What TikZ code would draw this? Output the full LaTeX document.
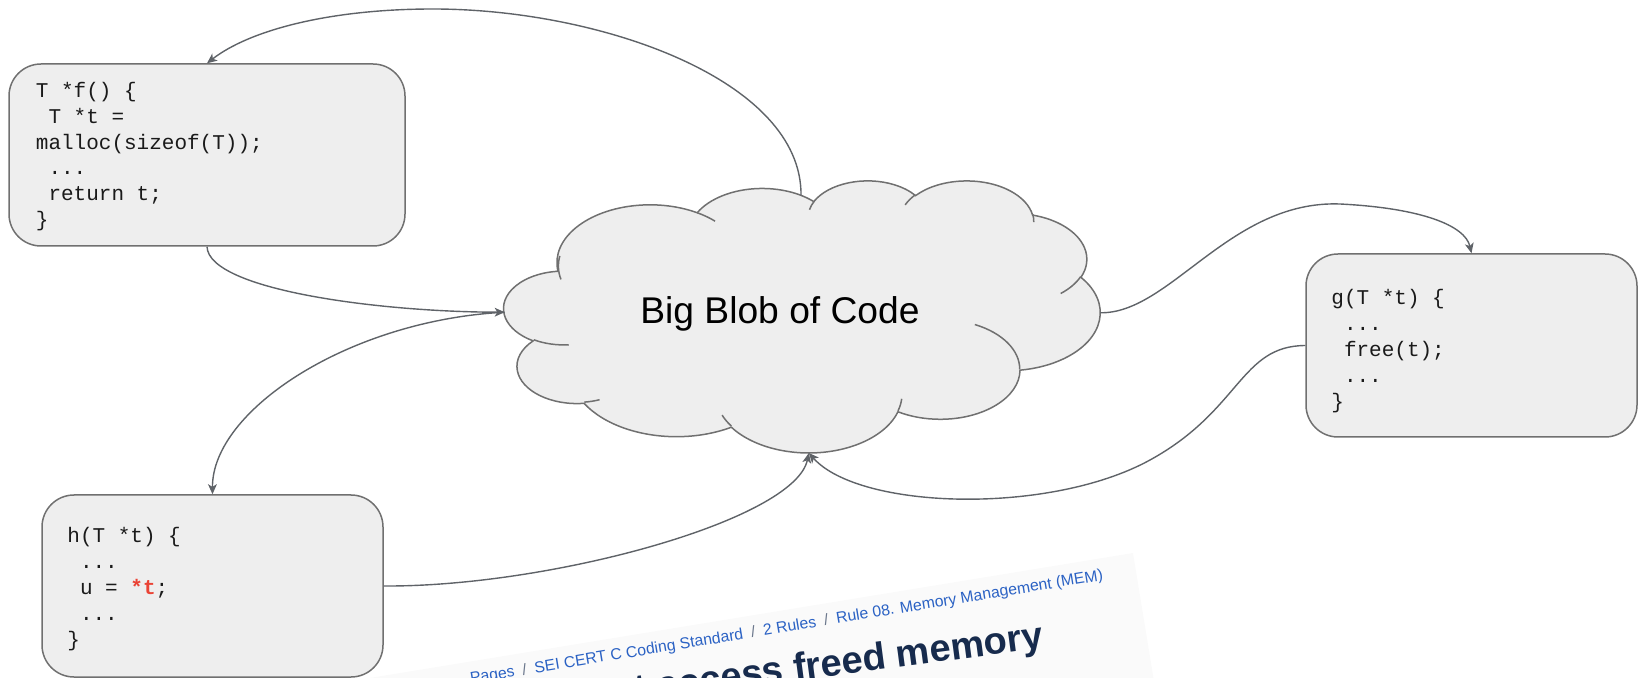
\documentclass[tikz,border=0pt]{standalone}
\usepackage{fontspec}
\setmainfont{Liberation Sans}
\newfontfamily\codefont{Liberation Mono}
\usetikzlibrary{arrows.meta}
\definecolor{boxfill}{HTML}{EEEEEE}
\definecolor{edgegray}{HTML}{707070}
\definecolor{linegray}{HTML}{5F6368}
\definecolor{codeink}{HTML}{1A1A1A}
\definecolor{hotred}{HTML}{EA4335}
\definecolor{crumbblue}{HTML}{2B62C4}
\definecolor{crumbgray}{HTML}{6B778C}
\definecolor{titlenavy}{HTML}{172B4D}
\definecolor{shotbg}{HTML}{FAFAFA}

\newcommand\cldcalc[5]{%
  \pgfmathsetmacro\cldS{atan2((#2)*sin(#4),(#3)*cos(#4))}%
  \pgfmathsetmacro\cldE{atan2((#2)*sin((#4)+(#5)),(#3)*cos((#4)+(#5)))}%
  \pgfmathsetmacro\cldD{(\cldE)-(\cldS)}%
  \pgfmathsetmacro\cldD{(\cldD)+360*((#5)>0)*((\cldD)<0)-360*((#5)<0)*((\cldD)>0)}%
  \pgfmathsetmacro\cldE{(\cldS)+(\cldD)}%
  \expandafter\xdef\csname cld#1s\endcsname{\cldS}%
  \expandafter\xdef\csname cld#1e\endcsname{\cldE}%
}
\newcommand\crumbsep{\hspace{4pt}\textcolor{crumbgray}{/}\hspace{4pt}}
\newcommand\cind{\hspace*{0.6em}}

\tikzset{
  codebox/.style={draw=edgegray, fill=boxfill, line width=0.75pt, rounded corners=16pt, inner sep=0pt},
  codetext/.style={anchor=base west, inner sep=0pt, text=codeink, font=\codefont\fontsize{10.5}{12.9}\selectfont},
  cloudshape/.style={draw=edgegray, fill=boxfill, line width=0.75pt},
  cloudedge/.style={draw=edgegray, line width=0.75pt},
  conn/.style={draw=linegray, line width=0.7pt, -{Stealth[length=5pt, width=4.4pt, inset=1.3pt]}},
}

\begin{document}
\begin{tikzpicture}[x=0.5pt, y=-0.5pt]
\useasboundingbox (0,0) rectangle (1639,678);
\begin{scope}
\clip (0,0) rectangle (1639,678);

% cloud geometry (visual -> parametric angles)
\cldcalc{A}{67.53}{91.90}{-190.4875}{123.7805}
\cldcalc{B}{53.33}{72.67}{-144.1024}{89.9452}
\cldcalc{C}{43.65}{59.45}{-145.8079}{99.7230}
\cldcalc{D}{48.57}{65.95}{-130.9861}{117.2417}
\cldcalc{E}{53.33}{72.73}{-78.7089}{109.0269}
\cldcalc{F}{67.75}{92.20}{-46.2673}{130.2690}
\cldcalc{G}{57.85}{78.67}{0.6250}{114.0333}
\cldcalc{H}{67.52}{92.15}{22.4516}{115.1726}
\cldcalc{I}{77.20}{105.43}{66.2426}{75.7110}
\cldcalc{J}{43.60}{59.18}{-274.9421}{146.7356}
\cldcalc{K}{43.45}{59.45}{-246.8285}{152.5189}
\cldcalc{a}{43.45}{59.45}{86.742}{26.4295}
\cldcalc{b}{43.60}{59.18}{73.6105}{11.4475}
\cldcalc{c}{67.52}{92.15}{137.6242}{14.0811}
\cldcalc{d}{67.52}{92.15}{6.4533}{15.9984}
\cldcalc{e}{57.85}{78.67}{-70.2924}{70.9174}
\cldcalc{f}{53.33}{72.73}{30.318}{27.7515}
\cldcalc{g}{48.57}{65.95}{-13.7443}{14.8589}
\cldcalc{h}{48.57}{65.95}{-149.1815}{18.1954}
\cldcalc{i}{43.65}{59.45}{-163.4943}{17.6864}
\cldcalc{j}{67.53}{91.90}{-66.707}{12.3194}
\cldcalc{k}{67.53}{91.90}{162.0371}{31.4636}

% screenshot fragment (bottom)
\begin{scope}[shift={(1133,553)}, rotate=9.3]
  \fill[shotbg] (0,0) rectangle (-820,220);
\end{scope}
\node[anchor=base east, rotate=9.3, inner sep=0pt, font=\fontsize{7.9}{9}\selectfont] (crumb) at (1104,580)
  {\textcolor{crumbblue}{Pages}\crumbsep\textcolor{crumbblue}{SEI CERT C Coding Standard}\crumbsep\textcolor{crumbblue}{2 Rules}\crumbsep\textcolor{crumbblue}{Rule 08. Memory Management (MEM)}};
\node[anchor=base east, rotate=7.5, inner sep=0pt, text=titlenavy, font=\bfseries\fontsize{19}{22}\selectfont] (title) at (1045,648)
  {Do not access freed memory};

% cloud
\begin{scope}[xshift=252pt, yshift=-90pt, x=0.68981pt, y=-0.31481pt]
  \filldraw[cloudshape] (39.00,143.70)
    arc[start angle=\cldAs, end angle=\cldAe, x radius=67.53, y radius=91.90]
    arc[start angle=\cldBs, end angle=\cldBe, x radius=53.33, y radius=72.67]
    arc[start angle=\cldCs, end angle=\cldCe, x radius=43.65, y radius=59.45]
    arc[start angle=\cldDs, end angle=\cldDe, x radius=48.57, y radius=65.95]
    arc[start angle=\cldEs, end angle=\cldEe, x radius=53.33, y radius=72.73]
    arc[start angle=\cldFs, end angle=\cldFe, x radius=67.75, y radius=92.20]
    arc[start angle=\cldGs, end angle=\cldGe, x radius=57.85, y radius=78.67]
    arc[start angle=\cldHs, end angle=\cldHe, x radius=67.52, y radius=92.15]
    arc[start angle=\cldIs, end angle=\cldIe, x radius=77.20, y radius=105.43]
    arc[start angle=\cldJs, end angle=\cldJe, x radius=43.60, y radius=59.18]
    arc[start angle=\cldKs, end angle=\cldKe, x radius=43.45, y radius=59.45]
    -- cycle;
  \foreach \n/\px/\py/\rx/\ry in {a/46.93/261.77/43.45/59.45, b/69.28/348.99/43.60/59.18,
      c/164.78/390.90/67.52/92.15, d/288.27/347.51/67.52/92.15, e/341.29/229.54/57.85/78.67,
      f/417.98/153.54/53.33/72.73, g/383.24/54.26/48.57/65.95, h/290.78/39.52/48.57/65.95,
      i/221.41/47.20/43.65/59.45, j/140.00/51.92/67.53/91.90, k/41.27/157.89/67.53/91.90}{
    \edef\stubS{\csname cld\n s\endcsname}
    \edef\stubE{\csname cld\n e\endcsname}
    \draw[cloudedge] (\px,\py) arc[start angle=\stubS, end angle=\stubE, x radius=\rx, y radius=\ry];
  }
  \coordinate (cT) at (215.3,24.4);
  \coordinate (cL) at (0.5,210);
  \coordinate (cR) at (432.2,210.85);
  \coordinate (cB) at (220.93,433.66);
\end{scope}
\node[anchor=base, inner sep=0pt, font=\fontsize{18.6}{22}\selectfont] (blob) at (780,324) {Big Blob of Code};

% code boxes
\node[codebox, minimum width=198pt, minimum height=91pt] (f) at (207,155) {};
\node[codebox, minimum width=170.5pt, minimum height=91pt] (h) at (212.5,586) {};
\node[codebox, minimum width=165.5pt, minimum height=91.5pt] (g) at (1471.5,345.5) {};

\node[codetext] (ftext) at (35.5,97.5) {\parbox[t]{190pt}{T *f() \{\\\cind T *t =\\malloc(sizeof(T));\\\cind ...\\\cind return t;\\\}}};
\node[codetext] (htext) at (67,543) {\parbox[t]{150pt}{h(T *t) \{\\\cind ...\\\cind u = \textcolor{hotred}{\bfseries *t};\\\cind ...\\\}}};
\node[codetext] (gtext) at (1331,305) {\parbox[t]{150pt}{g(T *t) \{\\\cind ...\\\cind free(t);\\\cind ...\\\}}};

% connectors
\draw[conn] (cT) .. controls (802,80) and (600,9) .. (433,9) .. controls (330,9) and (250,30) .. (f.north);
\draw[conn] (f.south) .. controls (209,290) and (380,312) .. (cL);
\draw[conn] (cL) .. controls (350,320) and (212,410) .. (h.north);
\draw[conn] (h.east) .. controls (550,587) and (795,520) .. (cB);
\draw[conn] (g.west) .. controls (1240,346) and (1241,410) .. (1150,460) .. controls (1050,515) and (860,510) .. (cB);
\draw[conn] (cR) .. controls (1170,314) and (1230,200) .. (1340,204) .. controls (1420,208) and (1465,225) .. (g.north);
\end{scope}
\end{tikzpicture}
\end{document}
